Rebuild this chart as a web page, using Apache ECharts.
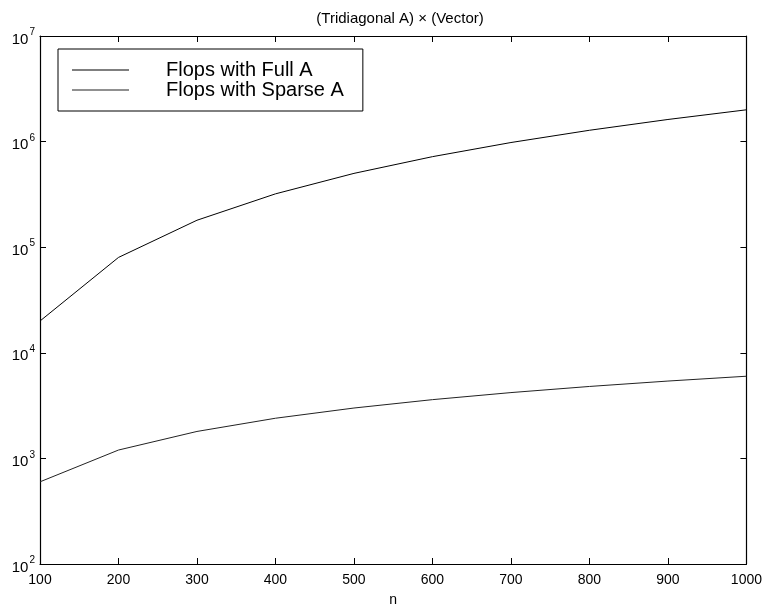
<!DOCTYPE html>
<html>
<head>
<meta charset="utf-8">
<script src="https://cdn.jsdelivr.net/npm/echarts@6/dist/echarts.min.js"></script>
<style>html,body{margin:0;padding:0;background:#fff}#c{width:765px;height:612px}</style>
</head>
<body>
<div id="c"></div>
<script>
const nValues = [100, 200, 300, 400, 500, 600, 700, 800, 900, 1000];
const flopsFull = [20000, 80000, 180000, 320000, 500000, 720000, 980000, 1280000, 1620000, 2000000];
const flopsSparse = [600, 1200, 1800, 2400, 3000, 3600, 4200, 4800, 5400, 6000];
const seriesNames = ['Flops with Full A', 'Flops with Sparse A'];
const titleText = '(Tridiagonal A) \u00d7 (Vector)';

const font = 'Liberation Sans, Arial, Helvetica, sans-serif';
const chart = echarts.init(document.getElementById('c'));
const pairs = (ys) => nValues.map((x, i) => [x, ys[i]]);
const tickStyle = { show: true, inside: true, length: 6, lineStyle: { color: '#000', width: 1 } };
const axisLine = { show: true, onZero: false, lineStyle: { color: '#000', width: 1.2 } };

chart.setOption({
  backgroundColor: '#fff',
  animation: false,
  title: {
    text: titleText, left: 395, top: 6, textAlign: 'center',
    textStyle: { fontFamily: font, fontSize: 15, fontWeight: 'normal', color: '#000' }
  },
  legend: {
    orient: 'vertical', left: 58, top: 49,
    data: seriesNames.map(n => ({ name: n, icon: 'rect' })),
    itemWidth: 57, itemHeight: 1, itemGap: 0,
    padding: [11, 19, 11, 14],
    borderColor: '#000', borderWidth: 1,
    textStyle: { fontFamily: font, fontSize: 20, lineHeight: 20, color: '#000', padding: [0, 0, 0, 32] },
    selectedMode: false
  },
  grid: { left: 40, right: 18, top: 36, bottom: 38 },
  xAxis: [{
    type: 'value', min: 100, max: 1000, interval: 100,
    name: 'n', nameLocation: 'middle', nameGap: 29,
    nameTextStyle: { fontFamily: font, fontSize: 14, color: '#000' },
    axisLine: axisLine, axisTick: tickStyle, splitLine: { show: false },
    axisLabel: { fontFamily: font, fontSize: 14, color: '#000', margin: 9, formatter: (v) => String(v) }
  }, {
    type: 'value', min: 100, max: 1000, interval: 100, position: 'top',
    axisLine: axisLine, axisTick: tickStyle, splitLine: { show: false },
    axisLabel: { show: false }
  }],
  yAxis: [{
    type: 'log', logBase: 10, min: 100, max: 10000000,
    axisLine: axisLine, axisTick: tickStyle, splitLine: { show: false },
    minorTick: { show: false },
    axisLabel: {
      margin: 5,
      formatter: (v) => '{b|10}{s|' + Math.round(Math.log10(v)) + '}',
      rich: {
        b: { fontFamily: font, fontSize: 15, color: '#000', padding: [7, 0, 0, 0] },
        s: { fontFamily: font, fontSize: 10, color: '#000', padding: [0, 0, 7, 1] }
      }
    }
  }, {
    type: 'log', logBase: 10, min: 100, max: 10000000, position: 'right',
    axisLine: axisLine, axisTick: tickStyle, splitLine: { show: false },
    axisLabel: { show: false }
  }],
  series: [{
    name: seriesNames[0], type: 'line', data: pairs(flopsFull),
    showSymbol: false, symbol: 'none',
    lineStyle: { color: '#000', width: 1 }, itemStyle: { color: '#000' }
  }, {
    name: seriesNames[1], type: 'line', data: pairs(flopsSparse),
    showSymbol: false, symbol: 'none',
    lineStyle: { color: '#222', width: 1 }, itemStyle: { color: '#222' }
  }]
});
</script>
</body>
</html>
